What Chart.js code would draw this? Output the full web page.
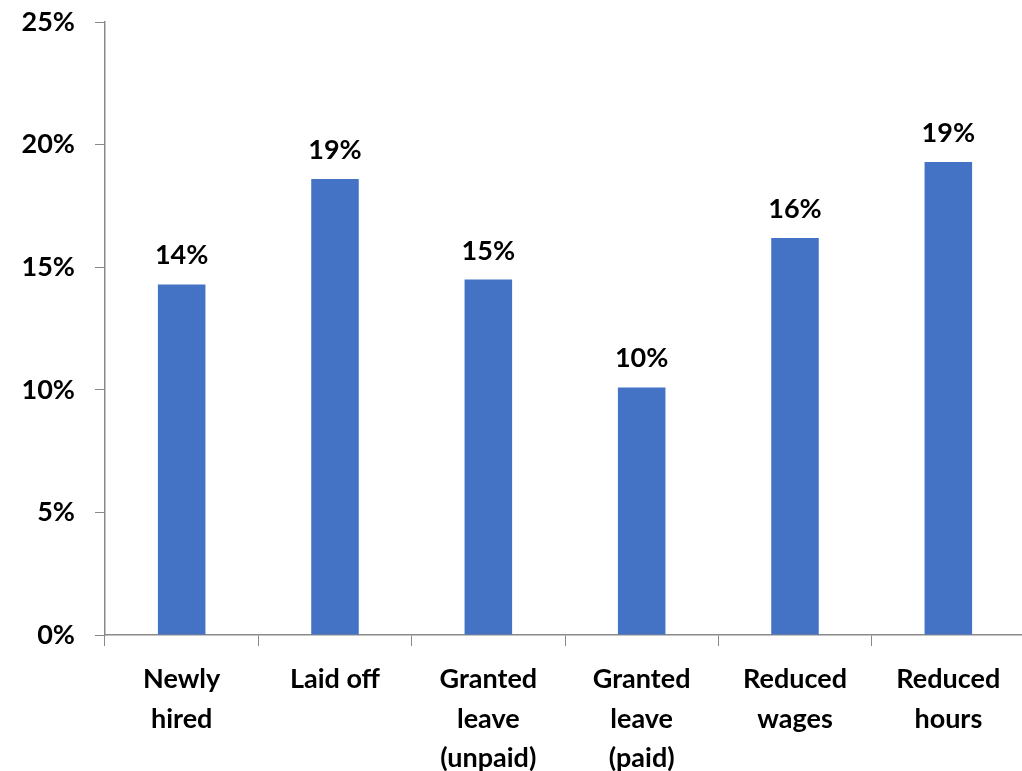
<!DOCTYPE html>
<html>
<head>
<meta charset="utf-8">
<script src="https://cdn.jsdelivr.net/npm/chart.js@4.4.0/dist/chart.umd.min.js"></script>
<style>
    html, body { margin: 0; padding: 0; background: #fff; overflow: hidden; }
    #wrap { position: absolute; left: 0; top: -14px; width: 1026px; height: 785px; }
</style>
</head>
<body>
<div id="wrap"><canvas id="bar-chart"></canvas></div>
<script>
const categories = [
    ["Newly", "hired"],
    ["Laid off"],
    ["Granted", "leave", "(unpaid)"],
    ["Granted", "leave", "(paid)"],
    ["Reduced", "wages"],
    ["Reduced", "hours"]
];
const shares = [14.3, 18.6, 14.5, 10.1, 16.2, 19.3];
const yTicks = [0, 5, 10, 15, 20, 25];

const fontFamily = "Lato, 'Liberation Sans', sans-serif";
const axisColor = "#898989";

//-----------------------
const valueLabels = {
    id: "valueLabels",
    afterDatasetsDraw: (chart) => {
        const ctx = chart.ctx;
        const meta = chart.getDatasetMeta(0);
        ctx.save();
        ctx.font = `bold 27px ${fontFamily}`;
        ctx.fillStyle = "#000";
        ctx.textAlign = "center";
        ctx.textBaseline = "alphabetic";
        meta.data.forEach((bar, i) => {
            ctx.fillText(Math.round(shares[i]) + "%", bar.x, bar.y - 20);
        });
        ctx.restore();
    }
};

const barChart = new Chart(document.getElementById("bar-chart"), {
    type: "bar",
    data: {
        labels: categories,
        datasets: [{
            data: shares,
            backgroundColor: "#4472C4",
            borderWidth: 0,
            categoryPercentage: 1,
            barPercentage: 0.31
        }]
    },
    options: {
        responsive: true,
        maintainAspectRatio: false,
        animation: false,
        layout: { padding: { top: 7, right: 1, left: 0, bottom: 0 } },
        plugins: {
            legend: { display: false },
            tooltip: { enabled: false }
        },
        scales: {
            x: {
                grid: { drawOnChartArea: false, drawTicks: true, tickLength: 11, color: axisColor, offset: true },
                border: { display: true, color: axisColor, width: 1.5 },
                ticks: {
                    color: "#000",
                    padding: 14,
                    maxRotation: 0,
                    autoSkip: false,
                    font: { family: fontFamily, size: 27, weight: "bold", lineHeight: 1.46 }
                },
                afterFit: (scale) => { scale.height = 136; }
            },
            y: {
                min: 0,
                max: 25,
                afterBuildTicks: (scale) => { scale.ticks = yTicks.map(v => ({ value: v })); },
                grid: { drawOnChartArea: false, drawTicks: true, tickLength: 10, color: axisColor },
                border: { display: true, color: axisColor, width: 1.5 },
                ticks: {
                    color: "#000",
                    padding: 20,
                    font: { family: fontFamily, size: 27, weight: "bold" },
                    callback: (v) => v + "%"
                },
                afterFit: (scale) => { scale.width = 105; }
            }
        }
    },
    plugins: [valueLabels]
});
</script>
</body>
</html>
